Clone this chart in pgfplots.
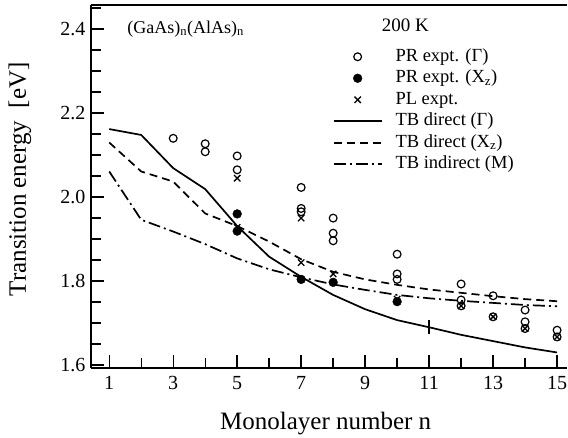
\documentclass[border=0pt]{standalone}
\usepackage{fontspec}
\setmainfont{Liberation Serif}
\usepackage{pgfplots}
\pgfplotsset{compat=1.18}
\pgfplotsset{
  lineleg/.style={legend image code/.code={\draw[##1] (0pt,0pt) -- (48pt,0pt);}},
  markleg/.style={legend image code/.code={\draw[##1] plot coordinates {(24pt,0pt)};}},
}
\begin{document}
\begin{tikzpicture}
\path[use as bounding box] (-91pt,-70pt) rectangle (477pt,368pt);
\begin{axis}[
  at={(0pt,0pt)}, anchor=south west,
  scale only axis, width=476pt, height=363pt,
  xmin=0.43, xmax=15.31, ymin=1.593, ymax=2.4575,
  axis lines=left, axis line style={-, line width=1.7pt},
  tick align=inside,
  xtick={1,3,...,15}, minor xtick={2,4,...,14},
  ytick={1.6,1.8,2.0,2.2,2.4},
  minor ytick={1.65,1.7,1.75,1.85,1.9,1.95,2.05,2.1,2.15,2.25,2.3,2.35,2.45},
  major tick length=13pt, minor tick length=10pt,
  tick style={black, line width=1.4pt},
  minor tick style={black, line width=1.4pt},
  tick label style={font=\fontsize{20}{24}\selectfont},
  /pgf/number format/assume math mode=true,
  yticklabel style={/pgf/number format/fixed, /pgf/number format/fixed zerofill, /pgf/number format/precision=1, xshift=-2pt},
  xticklabel style={yshift=-5pt},
  every axis x label/.style={at={(axis description cs:0.493,0)}, anchor=base, yshift=-62pt, font=\fontsize{25}{30}\selectfont},
  every axis y label/.style={at={(axis description cs:0,0.52)}, anchor=center, xshift=-71pt, rotate=90, font=\fontsize{25}{30}\selectfont},
  xlabel={Monolayer number n},
  ylabel={Transition energy\ \ [eV]},
  legend cell align=left,
  legend style={at={(0.508,0.887)}, anchor=north west, draw=none, fill=none,
    inner sep=0pt, outer sep=0pt, font=\fontsize{18.5}{22}\selectfont,
    column sep=12pt,
    nodes={inner sep=1pt, text height=14pt, text depth=5.5pt}},
  clip=false,
]
% PR expt (Gamma) open circles
\addplot[only marks, mark=o, mark size=3.9pt, mark options={line width=1.2pt, black}, markleg]
  coordinates {
  (3,2.140) (4,2.127) (4,2.108) (5,2.098) (5,2.065)
  (7,2.023) (7,1.973) (7,1.965)
  (8,1.950) (8,1.914) (8,1.896)
  (10,1.864) (10,1.817) (10,1.804)
  (12,1.793) (12,1.755) (12,1.741)
  (13,1.765) (13,1.715)
  (14,1.731) (14,1.703) (14,1.687)
  (15,1.683) (15,1.667)
  };
\addlegendentry{PR expt. (Γ)}
% PR expt (Xz) filled
\addplot[only marks, mark=*, mark size=4.4pt, mark options={black, fill=black}, markleg]
  coordinates {
  (5,1.960) (5,1.919) (7,1.804) (8,1.797) (10,1.751)
  };
\addlegendentry{PR expt. (X\textsubscript{z})}
% PL expt crosses
\addplot[only marks, mark=x, mark size=4.5pt, mark options={line width=1.3pt, black}, markleg]
  coordinates {
  (5,2.045) (5,1.928) (7,1.950) (7,1.844) (8,1.817) (10,1.757)
  (12,1.741) (13,1.715) (14,1.687) (15,1.667)
  };
\addlegendentry{PL expt.}
% TB direct (Gamma)
\addplot[black, line width=1.7pt, lineleg]
  coordinates {
  (1,2.162) (2,2.148) (3,2.069) (4,2.019) (5,1.931) (6,1.858) (7,1.810)
  (8,1.767) (9,1.733) (10,1.707) (11,1.690) (12,1.672) (13,1.657) (14,1.642) (15,1.630)
  };
\addlegendentry{TB direct (Γ)}
% TB direct (Xz)
\addplot[black, line width=1.7pt, dash pattern=on 8pt off 5pt, lineleg]
  coordinates {
  (1,2.130) (2,2.061) (3,2.037) (4,1.961) (5,1.931) (6,1.894) (7,1.852)
  (8,1.822) (9,1.804) (10,1.791) (11,1.780) (12,1.772) (13,1.764) (14,1.757) (15,1.752)
  };
\addlegendentry{TB direct (X\textsubscript{z})}
% TB indirect (M)
\addplot[black, line width=1.7pt, dash pattern=on 12pt off 4pt on 2pt off 4pt, lineleg]
  coordinates {
  (1,2.061) (2,1.946) (3,1.918) (4,1.888) (5,1.854) (6,1.828) (7,1.809)
  (8,1.792) (9,1.779) (10,1.767) (11,1.759) (12,1.753) (13,1.748) (14,1.743) (15,1.740)
  };
\addlegendentry{TB indirect (M)}
% small marker on the solid curve at n = 11
\addplot[only marks, mark=|, mark size=7pt, mark options={line width=1.3pt, black}, forget plot]
  coordinates {(11,1.690)};
\draw[line width=1.7pt] (rel axis cs:0,1) -- (rel axis cs:1,1);
\node[anchor=base west, inner sep=0pt, font=\fontsize{18}{22}\selectfont] at (axis cs:1.56,2.3905) {(GaAs)\textsubscript{n}(AlAs)\textsubscript{n}};
\node[anchor=base west, inner sep=0pt, font=\fontsize{19}{22}\selectfont] at (axis cs:9.52,2.394) {200 K};
\end{axis}
\end{tikzpicture}
\end{document}
